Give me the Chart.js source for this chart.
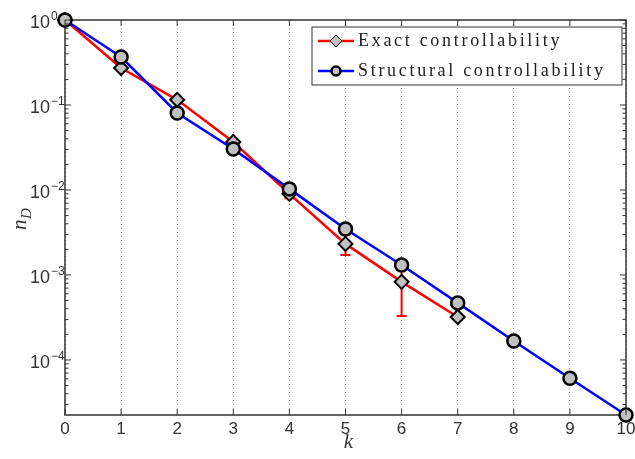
<!DOCTYPE html>
<html>
<head>
<meta charset="utf-8">
<script src="https://cdn.jsdelivr.net/npm/chart.js@4/dist/chart.umd.min.js"></script>
<style>
  html, body { margin: 0; padding: 0; background: #fff; }
  #wrap { width: 635px; height: 459px; }
</style>
</head>
<body>
<div id="wrap"><canvas id="mycanvas" width="635" height="459"></canvas></div>
<script>
// k values and n_D for both curves
var kExact = [0, 1, 2, 3, 4, 5, 6, 7];
var exactVals = [1, 0.272, 0.115, 0.0367, 0.0090, 0.00232, 0.00083, 0.00032];
var exactLow = [1, 0.265, 0.112, 0.0355, 0.0080, 0.00172, 0.00033, 0.00031];
var exactHigh = [1, 0.28, 0.118, 0.038, 0.0100, 0.0030, 0.00133, 0.00033];

var kStruct = [0, 1, 2, 3, 4, 5, 6, 7, 8, 9, 10];
var structVals = [1, 0.367, 0.0805, 0.0304, 0.0103, 0.00348, 0.00131, 0.000469, 0.000167, 0.000061, 0.0000225];

var xTicks = [0, 1, 2, 3, 4, 5, 6, 7, 8, 9, 10];
var yDecades = [0, -1, -2, -3, -4];
var legendLabels = ['Exact controllability', 'Structural controllability'];

function toPoints(xs, ys) {
  var pts = [];
  for (var i in xs) pts.push({x: xs[i], y: ys[i]});
  return pts;
}

var decor = {
  id: 'decor',
  beforeDatasetsDraw: function(chart) {
    var ctx = chart.ctx, xs = chart.scales.x, ys = chart.scales.y;
    // error bars on exact controllability
    ctx.save();
    ctx.strokeStyle = '#ff0000';
    ctx.lineWidth = 2;
    for (var i = 0; i < kExact.length; i++) {
      var px = xs.getPixelForValue(kExact[i]);
      var lo = ys.getPixelForValue(exactLow[i]);
      var hi = ys.getPixelForValue(exactHigh[i]);
      if (Math.abs(lo - hi) < 3) continue;
      ctx.beginPath();
      ctx.moveTo(px, hi); ctx.lineTo(px, lo);
      ctx.moveTo(px - 5, lo); ctx.lineTo(px + 5, lo);
      ctx.moveTo(px - 5, hi); ctx.lineTo(px + 5, hi);
      ctx.stroke();
    }
    ctx.restore();
  },
  afterDatasetsDraw: function(chart) {
    var ctx = chart.ctx, a = chart.chartArea;
    var xs = chart.scales.x, ys = chart.scales.y;
    ctx.save();
    ctx.strokeStyle = '#333';
    ctx.lineWidth = 1;
    // x ticks (inward, top and bottom)
    ctx.fillStyle = '#333';
    ctx.font = '17px "Liberation Sans", Arial, sans-serif';
    ctx.textAlign = 'center';
    ctx.textBaseline = 'top';
    xTicks.forEach(function(t) {
      var px = xs.getPixelForValue(t);
      ctx.beginPath();
      ctx.moveTo(px, a.bottom); ctx.lineTo(px, a.bottom - 6);
      ctx.moveTo(px, a.top); ctx.lineTo(px, a.top + 6);
      ctx.stroke();
      ctx.fillText(String(t), px, a.bottom + 6);
    });

    // y ticks: decades and minor ticks
    for (var d = -5; d <= 0; d++) {
      for (var m = 1; m <= 9; m++) {
        var v = m * Math.pow(10, d);
        if (v < ys.min || v > ys.max) continue;
        var py = ys.getPixelForValue(v);
        var len = m === 1 ? 6 : 3.5;
        ctx.beginPath();
        ctx.moveTo(a.left, py); ctx.lineTo(a.left + len, py);
        ctx.moveTo(a.right, py); ctx.lineTo(a.right - len, py);
        ctx.stroke();
      }
    }
    yDecades.forEach(function(e) {
      var py = ys.getPixelForValue(Math.pow(10, e));
      var sup = e === 0 ? '0' : '\u2212' + (-e);
      ctx.textAlign = 'left';
      ctx.textBaseline = 'alphabetic';
      ctx.font = '18px "Liberation Sans", Arial, sans-serif';
      ctx.fillText('10', 30, py + 8);
      ctx.font = '12px "Liberation Sans", Arial, sans-serif';
      ctx.fillText(sup, 51, py);
    });

    // axis titles
    ctx.fillStyle = '#333';
    ctx.font = 'italic 21px "Liberation Serif", "DejaVu Serif", serif';
    ctx.textAlign = 'center';
    ctx.textBaseline = 'alphabetic';
    ctx.fillText('k', (a.left + a.right) / 2 + 3, 448);
    ctx.save();
    ctx.translate(26, 218);
    ctx.rotate(-Math.PI / 2);
    ctx.textAlign = 'left';
    ctx.fillText('n', -12, 0);
    ctx.font = 'italic 15px "Liberation Serif", "DejaVu Serif", serif';
    ctx.fillText('D', -1, 5);
    ctx.restore();
    ctx.restore();
  },
  afterDraw: function(chart) {
    var ctx = chart.ctx;
    ctx.save();
    // legend
    var lx = 312, ly = 27, lw = 310, lh = 58;
    ctx.fillStyle = '#fff';
    ctx.fillRect(lx, ly, lw, lh);
    ctx.strokeStyle = '#333';
    ctx.lineWidth = 1;
    ctx.strokeRect(lx, ly, lw, lh);
    var ds = chart.data.datasets;
    for (var i = 0; i < ds.length; i++) {
      var cy = ly + 14 + i * 30;
      ctx.strokeStyle = ds[i].borderColor;
      ctx.lineWidth = 2.5;
      ctx.beginPath();
      ctx.moveTo(lx + 6, cy); ctx.lineTo(lx + 42, cy);
      ctx.stroke();
      ctx.fillStyle = '#c0c0c0';
      ctx.strokeStyle = '#000';
      ctx.lineWidth = i === 0 ? 1 : 2.5;
      ctx.beginPath();
      if (i === 0) {
        ctx.moveTo(lx + 24, cy - 6); ctx.lineTo(lx + 30, cy);
        ctx.lineTo(lx + 24, cy + 6); ctx.lineTo(lx + 18, cy);
        ctx.closePath();
      } else {
        ctx.arc(lx + 24, cy, 4.5, 0, Math.PI * 2);
      }
      ctx.fill(); ctx.stroke();
      ctx.fillStyle = '#222';
      ctx.font = '18px "Liberation Serif", "DejaVu Serif", serif';
      ctx.letterSpacing = '2.7px';
      ctx.textAlign = 'left';
      ctx.textBaseline = 'middle';
      ctx.fillText(legendLabels[i], lx + 46, cy);
      ctx.letterSpacing = '0px';
    }
    ctx.restore();
  }
};

var chartdata = {
  datasets: [
    {
      label: legendLabels[0],
      data: toPoints(kExact, exactVals),
      borderColor: '#ff0000',
      borderWidth: 2.5,
      backgroundColor: '#c0c0c0',
      pointStyle: 'rectRot',
      pointRadius: 7,
      pointBorderColor: '#000',
      pointBackgroundColor: '#c0c0c0',
      pointBorderWidth: 2,
      clip: false,
      order: 2
    },
    {
      label: legendLabels[1],
      data: toPoints(kStruct, structVals),
      borderColor: '#0000ff',
      borderWidth: 2.5,
      backgroundColor: '#c0c0c0',
      pointStyle: 'circle',
      pointRadius: 6.5,
      pointBorderColor: '#000',
      pointBackgroundColor: '#c0c0c0',
      pointBorderWidth: 2.5,
      clip: false,
      order: 1
    }
  ]
};

// plot frame drawn under the data
var frame = {
  id: 'frame',
  beforeDatasetsDraw: function(chart) {
    var c = chart.ctx, a = chart.chartArea;
    c.save();
    c.strokeStyle = '#333';
    c.lineWidth = 1.5;
    c.strokeRect(a.left, a.top, a.right - a.left, a.bottom - a.top);
    c.restore();
  }
};

var ctx = document.getElementById('mycanvas');
var chart = new Chart(ctx, {
  type: 'line',
  data: chartdata,
  options: {
    responsive: false,
    animation: false,
    layout: { padding: { left: 65, right: 8, top: 20, bottom: 44 } },
    plugins: { legend: { display: false }, tooltip: { enabled: false } },
    elements: { line: { tension: 0 } },
    scales: {
      x: {
        type: 'linear', min: 0, max: 10,
        ticks: { display: false, stepSize: 1 },
        border: { display: false },
        grid: { drawTicks: false, color: '#999', lineWidth: 1, tickLength: 0 }
      },
      y: {
        type: 'logarithmic', min: 2.25e-5, max: 1,
        ticks: { display: false },
        border: { display: false },
        grid: { display: false, drawTicks: false }
      }
    }
  },
  plugins: [frame, decor]
});
// dotted vertical grid
chart.options.scales.x.grid.borderDash = [1, 3];
chart.options.scales.x.border.dash = [1, 3];
chart.update();
</script>
</body>
</html>
